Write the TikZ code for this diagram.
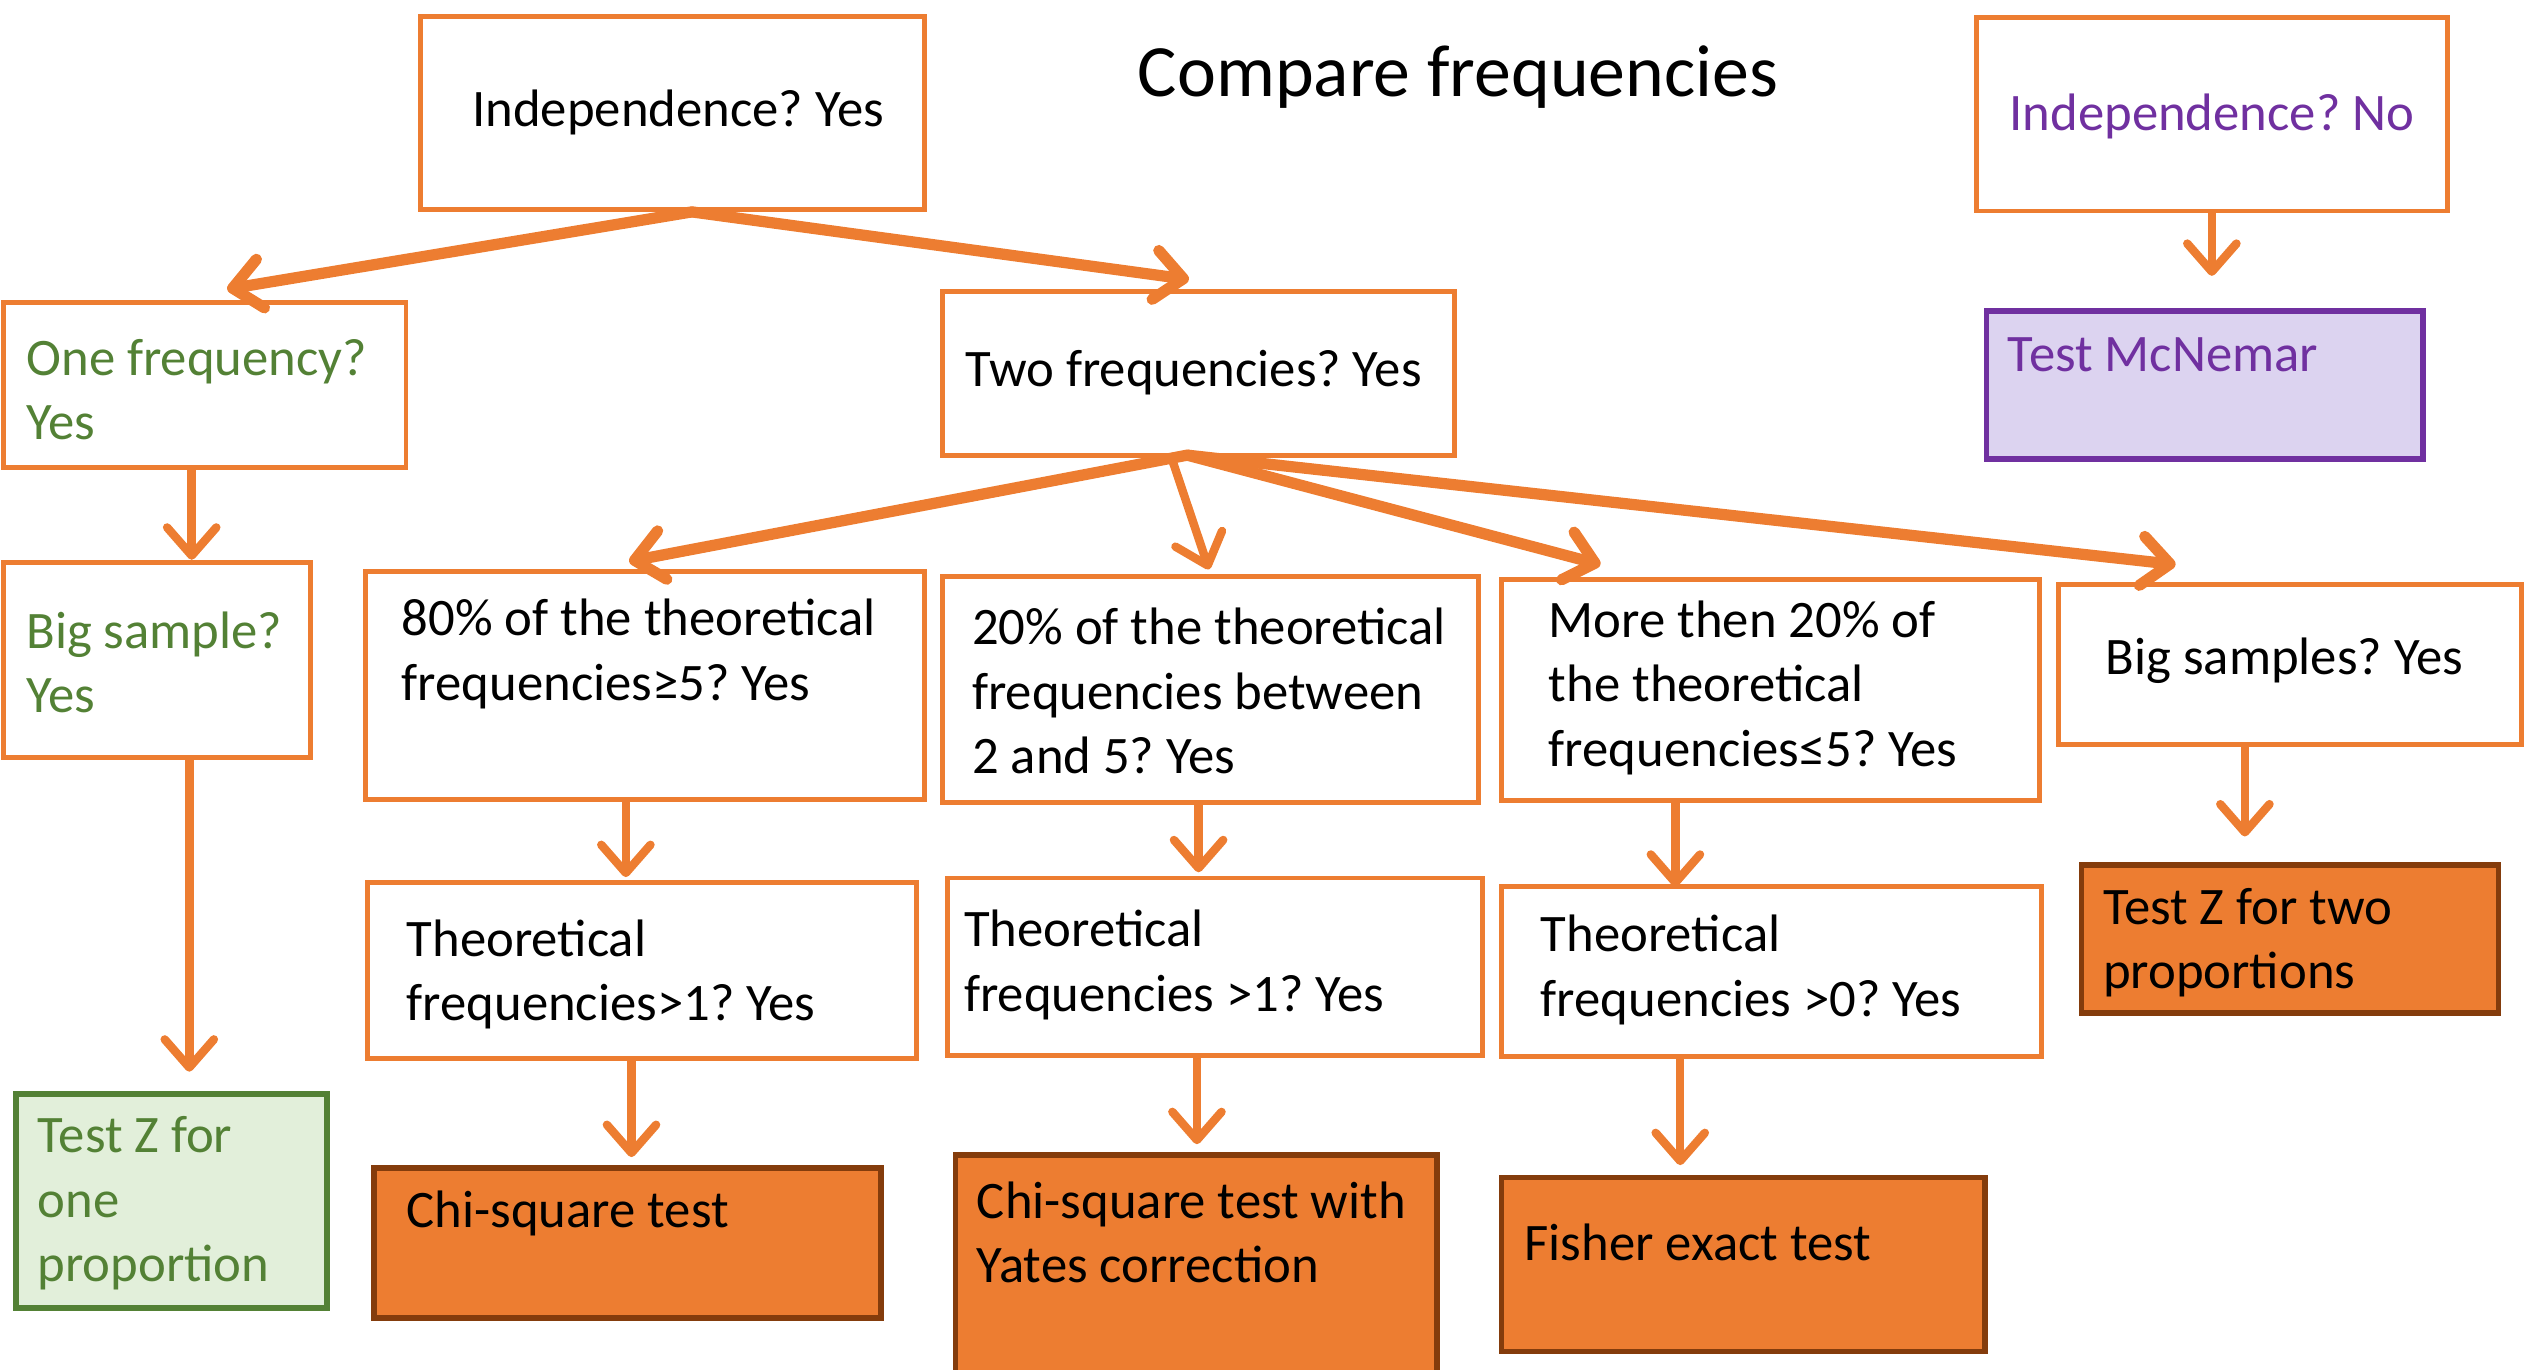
\documentclass[tikz,border=0pt]{standalone}
\usepackage{fontspec}
\setmainfont{Carlito}
\usetikzlibrary{arrows.meta}
\usetikzlibrary{calc}
\usetikzlibrary{fit}
\definecolor{boxorange}{HTML}{ED7D31}
\definecolor{darkrust}{HTML}{843C0C}
\definecolor{leafgreen}{HTML}{538135}
\definecolor{palegreen}{HTML}{E2EFDA}
\definecolor{plum}{HTML}{7030A0}
\definecolor{mclav}{HTML}{DCD3F0}
\frenchspacing

\begin{document}
\begin{tikzpicture}[x=0.01611cm, y=-0.01611cm,
        box/.style={draw=boxorange, line width=1.4pt, inner sep=0pt},
        result/.style={draw=darkrust, fill=boxorange, line width=1.6pt, inner sep=0pt},
        txt/.style={font=\fontsize{15}{18.3}\selectfont, align=left, inner sep=0pt, anchor=west},
        arr/.style={draw=boxorange, line width=2.4pt, line cap=round, -{Straight Barb[length=8pt,width=14pt,round]}},
        thick arr/.style={arr, line width=3.2pt}]
            \useasboundingbox (0,0) rectangle (1568,850);
            \node[font=\fontsize{21}{25}\selectfont] (title) at (905,48) {Compare frequencies};

            % top row
            \node[box, fit={(261,10) (574,130)}] (indepY) {};
            \node[txt, anchor=center] (indepYT) at (421,70) {Independence? Yes};
            \node[box, fit={(1227,11) (1519,131)}] (indepN) {};
            \node[txt, anchor=center, text=plum] (indepNT) at (1373,72) {Independence? No};
            \node[result, draw=plum, fill=mclav, fit={(1233,193) (1504,285)}] (McNemar) {};
            \node[txt, text=plum] (McNemarT) at (1246,220) {Test McNemar};

            % one frequency
            \node[box, fit={(2,188) (252,290)}] (oneFreq) {};
            \node[txt, text=leafgreen] (oneFreqT) at (16,242) {One frequency?\\Yes};
            \node[box, fit={(2,349) (193,470)}] (bigSample) {};
            \node[txt, text=leafgreen] (bigSampleT) at (16,411) {Big sample?\\Yes};
            \node[result, draw=leafgreen, fill=palegreen, fit={(10,679) (203,812)}] (testZone) {};
            \node[txt, text=leafgreen] (testZoneT) at (23,747) {Test Z for\\one\\proportion};

            % two frequencies
            \node[box, fit={(585,181) (903,283)}] (twoFreq) {};
            \node[txt, anchor=center] (twoFreqT) at (741,231) {Two frequencies? Yes};
            \node[box, fit={(227,355) (574,496)}] (b80) {};
            \node[txt] (b80T) at (249,406) {80\% of the theoretical\\frequencies≥5? Yes};
            \node[box, fit={(585,358) (918,498)}] (b20) {};
            \node[txt] (b20T) at (603,429) {20\% of the theoretical\\frequencies between\\2 and 5? Yes};
            \node[box, fit={(932,360) (1266,497)}] (bMore) {};
            \node[txt] (bMoreT) at (961,427) {More then 20\% of\\the theoretical\\frequencies≤5? Yes};
            \node[box, fit={(1278,363) (1565,462)}] (bBig) {};
            \node[txt, anchor=center] (bBigT) at (1418,410) {Big samples? Yes};

            \node[box, fit={(228,548) (569,657)}] (theo1) {};
            \node[txt] (theo1T) at (252,605) {Theoretical\\frequencies>1? Yes};
            \node[box, fit={(588,545) (920,655)}] (theo1b) {};
            \node[txt] (theo1bT) at (598,599) {Theoretical\\frequencies >1? Yes};
            \node[box, fit={(932,550) (1267,656)}] (theo0) {};
            \node[txt] (theo0T) at (956,602) {Theoretical\\frequencies >0? Yes};

            % tests
            \node[result, fit={(232,725) (547,818)}] (chi) {};
            \node[txt] (chiT) at (252,753) {Chi-square test};
            \node[result, fit={(593,717) (892,852)}] (yates) {};
            \node[txt] (yatesT) at (606,765) {Chi-square test with\\Yates correction};
            \node[result, fit={(932,731) (1232,839)}] (fisher) {};
            \node[txt] (fisherT) at (946,771) {Fisher exact test};
            \node[result, fit={(1292,537) (1551,629)}] (testZtwo) {};
            \node[txt] (testZtwoT) at (1305,585) {Test Z for two\\proportions};

            \draw[thick arr] ($(indepY.south)+(12,0)$) -- ($(oneFreq.north)+(14,-7)$);
            \draw[thick arr] ($(indepY.south)+(12,0)$) -- ($(twoFreq.north)+(-6,-6)$);
            \draw[arr] (indepN.south) -- ($(McNemar.north)+(4.5,-20)$);
            \draw[thick arr] ($(twoFreq.south)+(-7,-2)$) -- ($(b80.north)+(-10,-5)$);
            \draw[arr] ($(twoFreq.south)+(-16,2)$) -- ($(b20.north)+(-1,-3)$);
            \draw[thick arr] ($(twoFreq.south)+(-7,-2)$) -- ($(bMore.north west)+(63,-8)$);
            \draw[thick arr] ($(twoFreq.south)+(-7,-2)$) -- ($(bBig.north west)+(74,-11)$);
            \draw[arr] ($(oneFreq.south)+(-8,0)$) -- ($(bigSample.north)+(21.5,0)$);
            \draw[arr] ($(bigSample.south)+(20,0)$) -- ($(testZone.north)+(11,-12)$);
            \draw[arr] ($(b80.south)+(-12,0)$) -- ($(theo1.north)+(-10,-2)$);
            \draw[arr] ($(b20.south)+(-7.5,0)$) -- ($(theo1b.north)+(-10,-2)$);
            \draw[arr] ($(bMore.south)+(-59,0)$) -- ($(theo0.north)+(-59.5,2)$);
            \draw[arr] ($(bBig.south)+(-28,0)$) -- ($(testZtwo.north)+(-28,-16)$);
            \draw[arr] ($(theo1.south)+(-6.5,0)$) -- ($(chi.north)+(2.5,-5)$);
            \draw[arr] ($(theo1b.south)+(-11,0)$) -- ($(yates.north)+(0.5,-5)$);
            \draw[arr] ($(theo0.south)+(-56.5,0)$) -- ($(fisher.north)+(-39,-6)$);
        \end{tikzpicture}
\end{document}
